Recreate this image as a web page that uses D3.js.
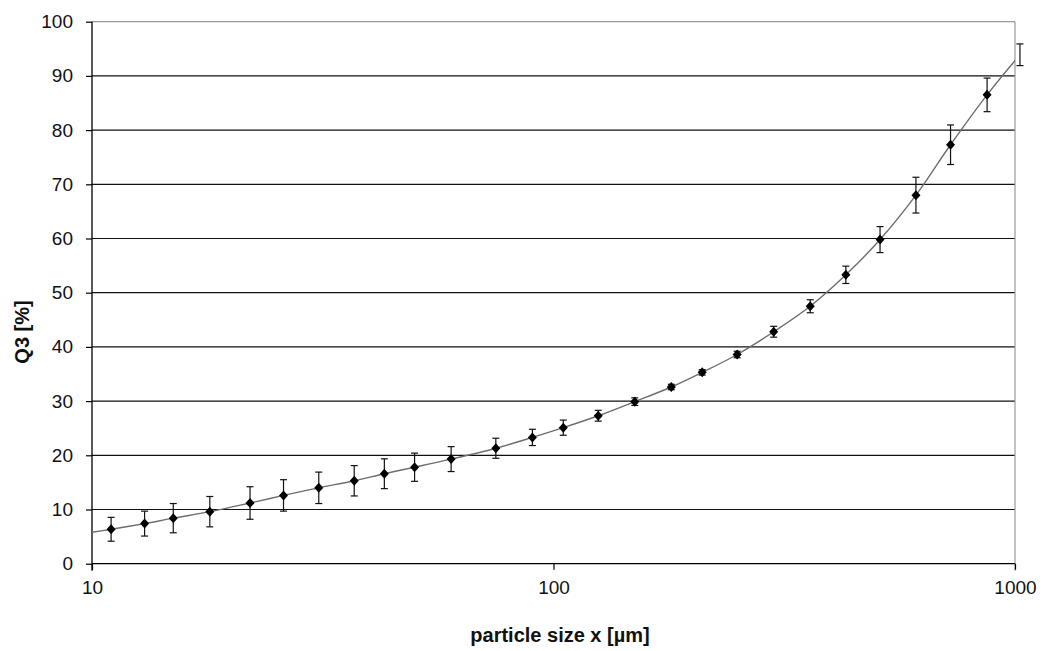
<!DOCTYPE html>
<html>
<head>
<meta charset="utf-8">
<script src="https://cdn.jsdelivr.net/npm/d3@7"></script>
<style>
  html, body { margin: 0; padding: 0; background: #fff; }
  svg { display: block; font-family: "Liberation Sans", Arial, sans-serif; }
</style>
</head>
<body>
<svg id="chart" width="1043" height="651"></svg>
<script>
// particle sizes [µm]
const sizes = [11, 13, 15, 18, 22, 26, 31, 37, 43, 50, 60, 75, 90, 105, 125, 150, 180, 210, 250, 300, 360, 430, 510, 610, 725, 870, 1025];
// cumulative Q3 [%]
const q3 = [6.35, 7.4, 8.4, 9.6, 11.2, 12.6, 14.0, 15.3, 16.6, 17.8, 19.3, 21.3, 23.3, 25.1, 27.3, 29.9, 32.6, 35.3, 38.6, 42.8, 47.5, 53.3, 59.8, 68.0, 77.3, 86.5, 93.9];
// error (±)
const errs = [2.2, 2.3, 2.7, 2.8, 3.0, 2.9, 2.9, 2.8, 2.75, 2.6, 2.3, 1.85, 1.5, 1.4, 1.0, 0.7, 0.5, 0.5, 0.6, 1.0, 1.2, 1.6, 2.4, 3.3, 3.65, 3.1, 2.0];
// start of the smoothed curve at the left edge
const curveStartX = [10];
const curveStartQ = [5.8];
const xTicks = [10, 100, 1000];
const yTicks = [0, 10, 20, 30, 40, 50, 60, 70, 80, 90, 100];

const svg = d3.select("#chart");
const pL = 92, pR = 1015, pT = 21.7, pB = 563.7;

const x = d3.scaleLog().domain([10, 1000]).range([pL, pR]);
const y = d3.scaleLinear().domain([0, 100]).range([pB, pT]);

// clip
svg.append("defs").append("clipPath").attr("id", "plotclip")
  .append("rect").attr("x", pL).attr("y", pT).attr("width", pR - pL).attr("height", pB - pT);

// gridlines
svg.append("g").selectAll("line").data(yTicks.filter(d => d > 0 && d < 100)).join("line")
  .attr("x1", pL).attr("x2", pR)
  .attr("y1", d => y(d)).attr("y2", d => y(d))
  .attr("stroke", "#111").attr("stroke-width", 1.2);

// plot border (top & right) gray
svg.append("line").attr("x1", pL).attr("x2", pR).attr("y1", y(100)).attr("y2", y(100))
  .attr("stroke", "#999").attr("stroke-width", 1.2);
svg.append("line").attr("x1", pR).attr("x2", pR).attr("y1", pT).attr("y2", pB + 7)
  .attr("stroke", "#999").attr("stroke-width", 1.2);

// axes
const yAxis = d3.axisLeft(y).tickValues(yTicks).tickSize(6).tickPadding(13).tickFormat(d3.format("d"));
const gy = svg.append("g").attr("transform", `translate(${pL},0)`).call(yAxis);
const xAxis = d3.axisBottom(x).tickValues(xTicks).tickSize(6).tickPadding(11).tickFormat(d3.format("d"));
const gx = svg.append("g").attr("transform", `translate(0,${pB})`).call(xAxis);
[gx, gy].forEach(g => {
  g.select(".domain").attr("stroke", "#000").attr("stroke-width", 1.3);
  g.selectAll(".tick line").attr("stroke", "#000").attr("stroke-width", 1.2);
  g.selectAll(".tick text").attr("font-size", 19).attr("fill", "#111")
    .attr("font-family", "'Liberation Sans', Arial, sans-serif");
});
gx.select(".domain").attr("d", `M${pL},0H${pR}`);
gy.select(".domain").attr("d", `M0,${pB + 7}V${pT}`);

// smoothed curve
const lineData = curveStartX.map((v, i) => ({ s: v, q: curveStartQ[i] }))
  .concat(sizes.map((s, i) => ({ s, q: q3[i] })));
const line = d3.line().x(d => x(d.s)).y(d => y(d.q)).curve(d3.curveCatmullRom.alpha(0.5));
svg.append("path").attr("clip-path", "url(#plotclip)")
  .attr("d", line(lineData)).attr("fill", "none").attr("stroke", "#6e6e6e").attr("stroke-width", 1.4);

// error bars
const pts = sizes.map((s, i) => ({ s, q: q3[i], e: errs[i] }));
const eb = svg.append("g").attr("stroke", "#111").attr("stroke-width", 1.2);
pts.forEach(d => {
  const cx = x(d.s), y1 = y(d.q + d.e), y2 = y(d.q - d.e);
  eb.append("line").attr("x1", cx).attr("x2", cx).attr("y1", y1).attr("y2", y2);
  eb.append("line").attr("x1", cx - 3.5).attr("x2", cx + 3.5).attr("y1", y1).attr("y2", y1);
  eb.append("line").attr("x1", cx - 3.5).attr("x2", cx + 3.5).attr("y1", y2).attr("y2", y2);
});

// markers (only those inside the plot area)
svg.append("g").selectAll("path").data(pts.filter(d => d.s <= 1000)).join("path")
  .attr("d", d => {
    const cx = x(d.s), cy = y(d.q), w = 4.5, h = 5;
    return `M${cx},${cy - h}L${cx + w},${cy}L${cx},${cy + h}L${cx - w},${cy}Z`;
  })
  .attr("fill", "#000");

// axis titles
svg.append("text").attr("x", 560).attr("y", 642)
  .attr("text-anchor", "middle").attr("font-size", 20).attr("font-weight", "bold").attr("fill", "#111")
  .text("particle size x [µm]");
svg.append("text").attr("transform", `translate(29,332) rotate(-90)`)
  .attr("text-anchor", "middle").attr("font-size", 20).attr("font-weight", "bold").attr("fill", "#111")
  .text("Q3 [%]");
</script>
</body>
</html>
